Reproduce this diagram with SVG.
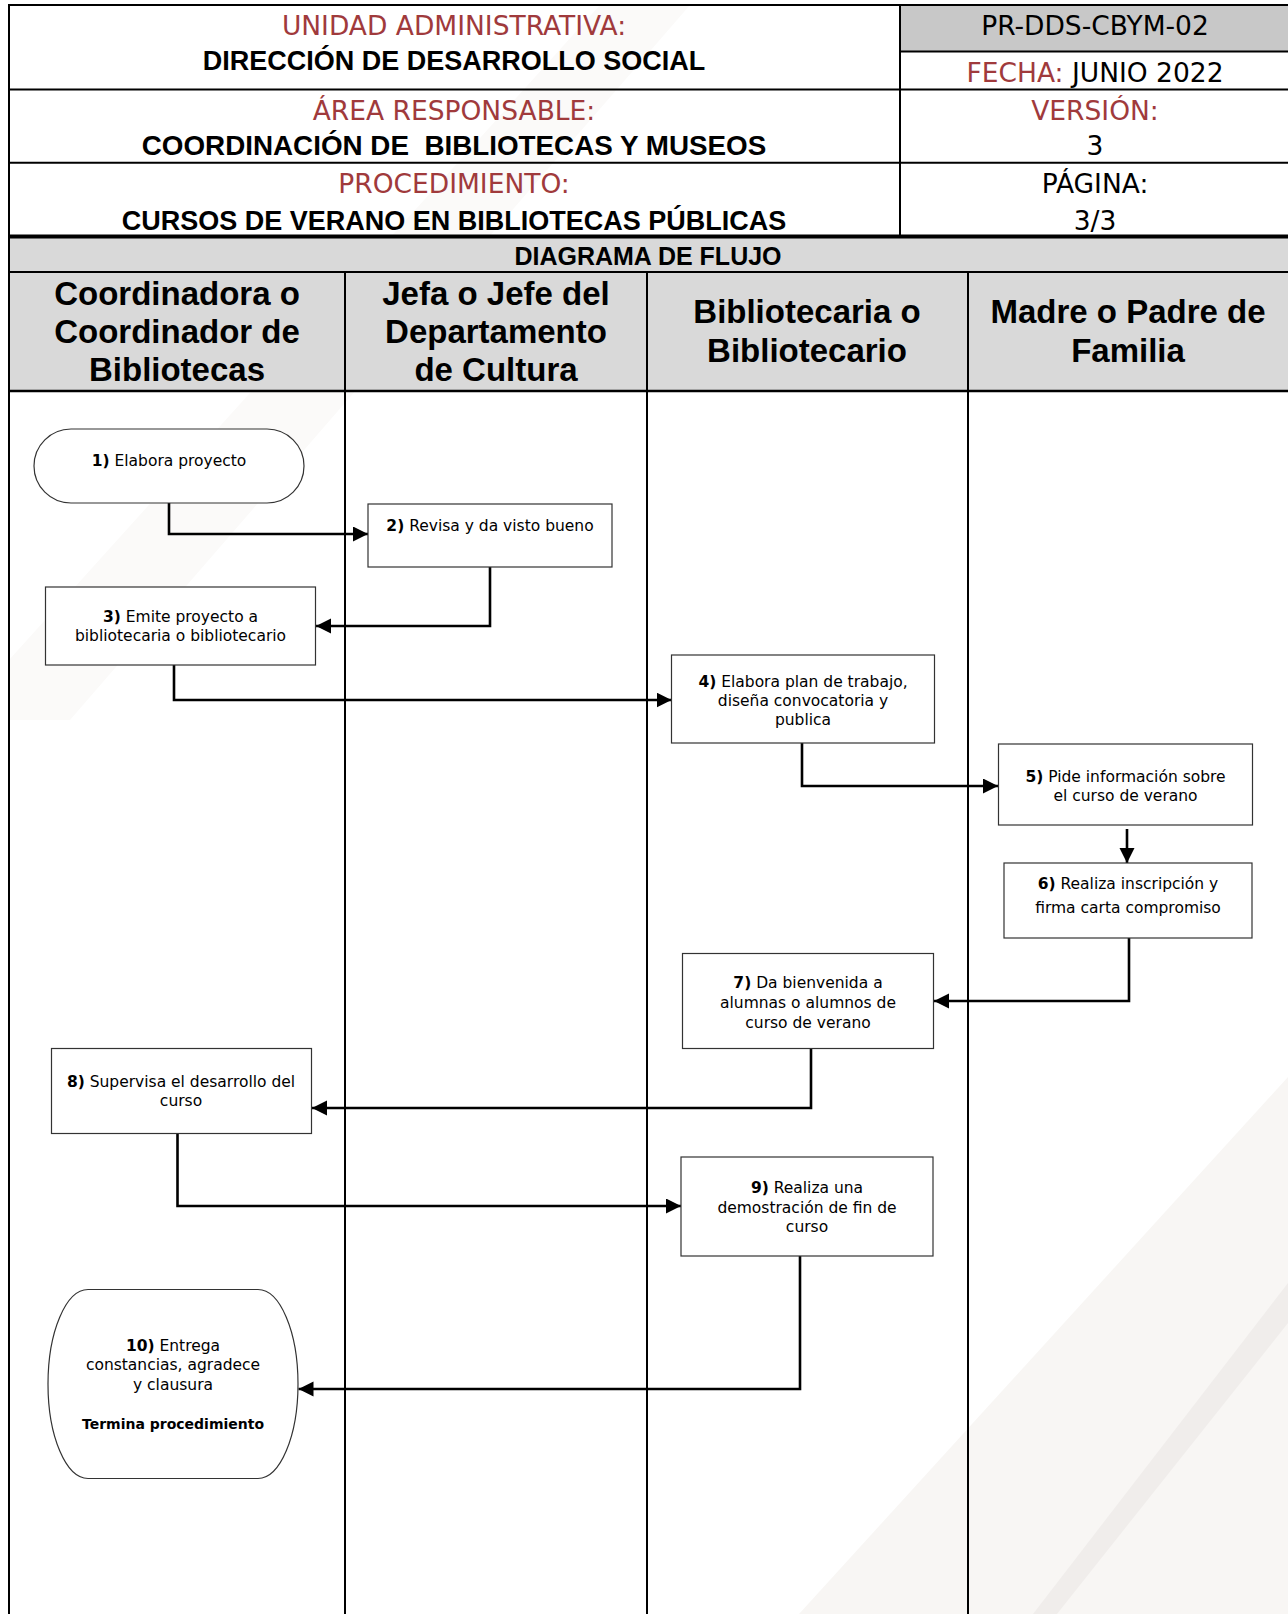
<svg xmlns="http://www.w3.org/2000/svg" width="1288" height="1614" viewBox="0 0 1288 1614">
<style>
.hd{font-family:"DejaVu Sans",sans-serif;font-size:26.5px;text-anchor:middle;fill:#000}
.red{fill:#a03a3c}
.hb{font-family:"Liberation Sans",Arial,sans-serif;font-weight:bold;font-size:27px;text-anchor:middle;fill:#000}
.lane{font-family:"Liberation Sans",Arial,sans-serif;font-weight:bold;font-size:33px;text-anchor:middle;fill:#000}
.nt{font-family:"DejaVu Sans",sans-serif;font-size:15.5px;text-anchor:middle;fill:#000}
.b{font-weight:bold}
.box{fill:#fff;stroke:#333;stroke-width:1.2}
.ln{stroke:#000;stroke-width:2;fill:none}
.con{stroke:#000;stroke-width:2.6;fill:none;marker-end:url(#ah)}
</style>
<defs>
<marker id="ah" markerUnits="userSpaceOnUse" markerWidth="16" markerHeight="16" refX="15" refY="7.5" orient="auto">
<path d="M0,0 L15,7.5 L0,15 Z" fill="#000"/>
</marker>
</defs>
<rect x="0" y="0" width="1288" height="1614" fill="#fff"/>
<g id="watermark">
<polygon points="600,5 690,5 70,720 9,720 9,660" fill="#fbfaf9"/>
<polygon points="1288,1077 1288,1614 799,1614" fill="#f8f6f4"/>
<polygon points="1288,1283 1288,1323 1057,1614 1033,1614" fill="#f0edeb"/>
</g>
<g id="header">
<rect x="900" y="5" width="388" height="46.5" fill="#c8c8c8"/>
<rect x="9" y="237" width="1279" height="35" fill="#d9d9d9"/>
<rect x="9" y="272" width="1279" height="119" fill="#d9d9d9"/>
<line class="ln" x1="8" y1="5" x2="1288" y2="5"/>
<line class="ln" x1="9" y1="89.5" x2="1288" y2="89.5"/>
<line class="ln" x1="900" y1="51.5" x2="1288" y2="51.5"/>
<line class="ln" x1="9" y1="162.7" x2="1288" y2="162.7"/>
<line class="ln" x1="900" y1="5" x2="900" y2="236"/>
<line x1="9" y1="236.5" x2="1288" y2="236.5" stroke="#000" stroke-width="4"/>
<line class="ln" x1="9" y1="272" x2="1288" y2="272"/>
<line x1="9" y1="391" x2="1288" y2="391" stroke="#000" stroke-width="2.5"/>
<text class="hd red" x="454" y="35">UNIDAD ADMINISTRATIVA:</text>
<text class="hb" x="454" y="70">DIRECCIÓN DE DESARROLLO SOCIAL</text>
<text class="hd red" x="454" y="120">ÁREA RESPONSABLE:</text>
<text class="hb" x="454" y="155" style="font-size:27.8px">COORDINACIÓN DE&#160; BIBLIOTECAS Y MUSEOS</text>
<text class="hd red" x="454" y="193">PROCEDIMIENTO:</text>
<text class="hb" x="454" y="230">CURSOS DE VERANO EN BIBLIOTECAS PÚBLICAS</text>
<text class="hd" x="1095" y="35">PR-DDS-CBYM-02</text>
<text class="hd" x="1095" y="82"><tspan class="red">FECHA:</tspan> JUNIO 2022</text>
<text class="hd red" x="1095" y="120">VERSIÓN:</text>
<text class="hd" x="1095" y="155">3</text>
<text class="hd" x="1095" y="193">PÁGINA:</text>
<text class="hd" x="1095" y="230">3/3</text>
<text class="hb" x="648" y="265" style="font-size:25px">DIAGRAMA DE FLUJO</text>
</g>
<g id="lanes">
<line class="ln" x1="9" y1="4" x2="9" y2="1614"/>
<line class="ln" x1="345" y1="272" x2="345" y2="1614"/>
<line class="ln" x1="647" y1="272" x2="647" y2="1614"/>
<line class="ln" x1="968" y1="272" x2="968" y2="1614"/>
<text class="lane" x="177" y="305">Coordinadora o</text>
<text class="lane" x="177" y="343">Coordinador de</text>
<text class="lane" x="177" y="381">Bibliotecas</text>
<text class="lane" x="496" y="305">Jefa o Jefe del</text>
<text class="lane" x="496" y="343">Departamento</text>
<text class="lane" x="496" y="381">de Cultura</text>
<text class="lane" x="807" y="323">Bibliotecaria o</text>
<text class="lane" x="807" y="362">Bibliotecario</text>
<text class="lane" x="1128" y="323">Madre o Padre de</text>
<text class="lane" x="1128" y="362">Familia</text>
</g>
<g id="connectors">
<path class="con" d="M169,503 V534 H368"/>
<path class="con" d="M490,567 V626 H316"/>
<path class="con" d="M174,662 V700 H671.5"/>
<path class="con" d="M802,743 V786 H998"/>
<path class="con" d="M1127,829 V863"/>
<path class="con" d="M1129,938 V1001 H934"/>
<path class="con" d="M811,1049 V1108 H312"/>
<path class="con" d="M177.5,1131 V1206 H681"/>
<path class="con" d="M800,1256 V1389 H298.5"/>
</g>
<g id="n1">
<rect class="box" x="34" y="429" width="270" height="74" rx="37" ry="37"/>
<text class="nt" x="169" y="466"><tspan class="b">1)</tspan> Elabora proyecto</text>
</g>
<g id="n2">
<rect class="box" x="368" y="504" width="244" height="63"/>
<text class="nt" x="490" y="531"><tspan class="b">2)</tspan> Revisa y da visto bueno</text>
</g>
<g id="n3">
<rect class="box" x="45.5" y="587" width="270" height="78"/>
<text class="nt" x="180.5" y="622"><tspan class="b">3)</tspan> Emite proyecto a</text>
<text class="nt" x="180.5" y="641">bibliotecaria o bibliotecario</text>
</g>
<g id="n4">
<rect class="box" x="671.5" y="655" width="263" height="88"/>
<text class="nt" x="803" y="687"><tspan class="b">4)</tspan> Elabora plan de trabajo,</text>
<text class="nt" x="803" y="706">diseña convocatoria y</text>
<text class="nt" x="803" y="725">publica</text>
</g>
<g id="n5">
<rect class="box" x="998.5" y="744" width="254" height="81"/>
<text class="nt" x="1125.5" y="782"><tspan class="b">5)</tspan> Pide información sobre</text>
<text class="nt" x="1125.5" y="801">el curso de verano</text>
</g>
<g id="n6">
<rect class="box" x="1004" y="863" width="248" height="75"/>
<text class="nt" x="1128" y="889"><tspan class="b">6)</tspan> Realiza inscripción y</text>
<text class="nt" x="1128" y="912.5">firma carta compromiso</text>
</g>
<g id="n7">
<rect class="box" x="682.5" y="953.5" width="251" height="95"/>
<text class="nt" x="808" y="988"><tspan class="b">7)</tspan> Da bienvenida a</text>
<text class="nt" x="808" y="1008">alumnas o alumnos de</text>
<text class="nt" x="808" y="1028">curso de verano</text>
</g>
<g id="n8">
<rect class="box" x="51.5" y="1048.5" width="260" height="85"/>
<text class="nt" x="181" y="1087"><tspan class="b">8)</tspan> Supervisa el desarrollo del</text>
<text class="nt" x="181" y="1106">curso</text>
</g>
<g id="n9">
<rect class="box" x="681" y="1157" width="252" height="99"/>
<text class="nt" x="807" y="1193"><tspan class="b">9)</tspan> Realiza una</text>
<text class="nt" x="807" y="1213">demostración de fin de</text>
<text class="nt" x="807" y="1232">curso</text>
</g>
<g id="n10">
<rect class="box" x="48" y="1289.5" width="250" height="189" rx="40" ry="94.5"/>
<text class="nt" x="173" y="1351"><tspan class="b">10)</tspan> Entrega</text>
<text class="nt" x="173" y="1370">constancias, agradece</text>
<text class="nt" x="173" y="1390">y clausura</text>
<text class="nt b" x="173" y="1429" style="font-size:14px">Termina procedimiento</text>
</g>
</svg>
